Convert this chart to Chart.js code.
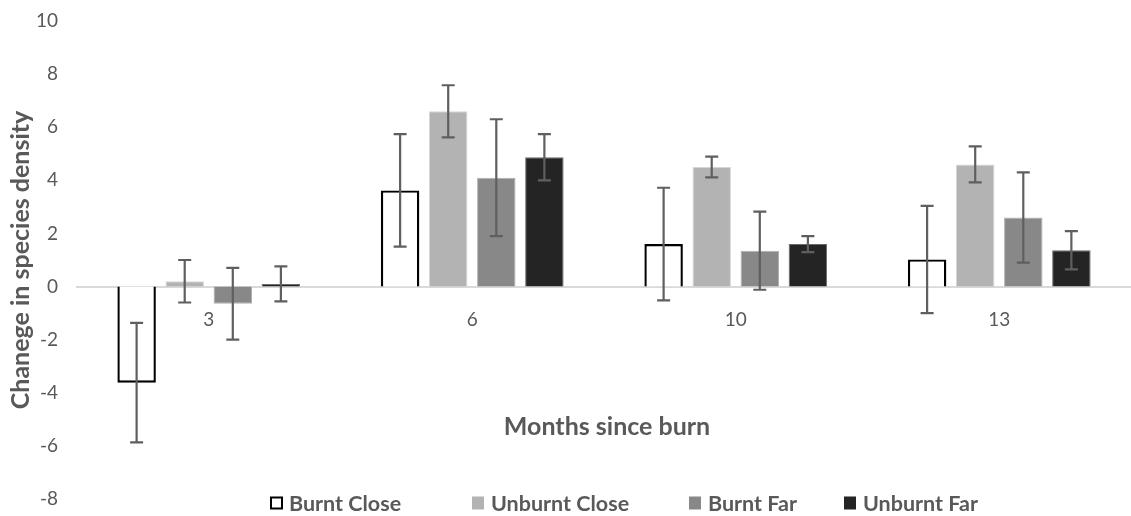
<!DOCTYPE html>
<html>
<head>
<meta charset="utf-8">
<script src="https://cdn.jsdelivr.net/npm/chart.js@4.4.1/dist/chart.umd.min.js"></script>
<style>
  html, body { margin: 0; padding: 0; background: #ffffff; }
  #wrap { width: 1131px; height: 516px; position: relative; }
</style>
</head>
<body>
<div id="wrap"><canvas id="chart"></canvas></div>
<script>
// Months since burn (categories)
const months = ['3', '6', '10', '13'];

// Mean change in species density per treatment
const burntClose   = [-3.62, 3.62, 1.60, 1.02];
const unburntClose = [0.20, 6.60, 4.50, 4.60];
const burntFar     = [-0.65, 4.10, 1.35, 2.60];
const unburntFar   = [0.10, 4.87, 1.60, 1.37];

// Error bar half-lengths (±)
const burntCloseErr   = [2.25, 2.12, 2.12, 2.02];
const unburntCloseErr = [0.80, 0.98, 0.39, 0.68];
const burntFarErr     = [1.35, 2.20, 1.47, 1.70];
const unburntFarErr   = [0.66, 0.87, 0.30, 0.72];

// Y axis range and tick step
const yMin = -8, yMax = 10, yStep = 2;

const seriesNames = ['Burnt Close', 'Unburnt Close', 'Burnt Far', 'Unburnt Far'];

const TEXT = '#595959';
const FONT = 'Lato, "Open Sans", sans-serif';

// Draws symmetric error bars on top of each bar
const errorBars = {
  id: 'errorBars',
  afterDatasetsDraw(chart) {
    const ctx = chart.ctx;
    const y = chart.scales.y;
    ctx.save();
    ctx.strokeStyle = '#5f5f5f';
    ctx.lineWidth = 2.2;
    chart.data.datasets.forEach((ds, i) => {
      const meta = chart.getDatasetMeta(i);
      meta.data.forEach((bar, j) => {
        const v = ds.data[j], e = ds.errors[j];
        const yt = y.getPixelForValue(v + e);
        const yb = y.getPixelForValue(v - e);
        const cap = 6.5;
        ctx.beginPath();
        ctx.moveTo(bar.x, yt); ctx.lineTo(bar.x, yb);
        ctx.moveTo(bar.x - cap, yt); ctx.lineTo(bar.x + cap, yt);
        ctx.moveTo(bar.x - cap, yb); ctx.lineTo(bar.x + cap, yb);
        ctx.stroke();
      });
    });
    ctx.restore();
  }
};

// X axis title and the legend row under the plot
const extraText = {
  id: 'extraText',
  afterDraw(chart) {
    const ctx = chart.ctx;
    const area = chart.chartArea;
    ctx.save();
    ctx.fillStyle = TEXT;
    ctx.font = 'bold 25px ' + FONT;
    ctx.textAlign = 'center';
    ctx.textBaseline = 'middle';
    ctx.fillText('Months since burn', (area.left + area.right) / 2 + 3, 427);

    const boxX = [270, 472, 689, 844];
    const cy = 503;
    ctx.font = 'bold 21.5px ' + FONT;
    ctx.textAlign = 'left';
    chart.data.datasets.forEach((ds, i) => {
      const bx = boxX[i];
      if (i === 0) {
        ctx.fillStyle = '#ffffff';
        ctx.fillRect(bx, cy - 6.5, 13, 13);
        ctx.strokeStyle = '#000000';
        ctx.lineWidth = 2;
        ctx.strokeRect(bx + 1, cy - 5.5, 11, 11);
      } else {
        ctx.fillStyle = ds.backgroundColor;
        ctx.fillRect(bx, cy - 6.5, 12, 13);
      }
      ctx.fillStyle = TEXT;
      ctx.fillText(ds.label, bx + 19, cy + 1);
    });
    ctx.restore();
  }
};

const common = { barPercentage: 0.8, categoryPercentage: 0.73, borderSkipped: 'start' };

function noScalePadding(scale) {
  scale.paddingTop = 0;
  scale.paddingBottom = 0;
  scale.paddingLeft = 0;
  scale.paddingRight = 0;
}

new Chart(document.getElementById('chart'), {
  type: 'bar',
  data: {
    labels: months,
    datasets: [
      Object.assign({ label: seriesNames[0], data: burntClose, errors: burntCloseErr,
        backgroundColor: '#ffffff', borderColor: '#000000', borderWidth: 2.4 }, common),
      Object.assign({ label: seriesNames[1], data: unburntClose, errors: unburntCloseErr,
        backgroundColor: '#b3b3b3', borderColor: '#d6d6d6', borderWidth: 1 }, common),
      Object.assign({ label: seriesNames[2], data: burntFar, errors: burntFarErr,
        backgroundColor: '#888888', borderColor: '#b0b0b0', borderWidth: 1 }, common),
      Object.assign({ label: seriesNames[3], data: unburntFar, errors: unburntFarErr,
        backgroundColor: '#242424', borderColor: '#6a6a6a', borderWidth: 1 }, common)
    ]
  },
  options: {
    responsive: true,
    maintainAspectRatio: false,
    animation: false,
    layout: { padding: { top: 21, bottom: 17, left: 0, right: 0 } },
    plugins: {
      legend: { display: false },
      tooltip: { enabled: false }
    },
    scales: {
      x: {
        position: { y: 0 },
        z: 1,
        grid: { display: false, drawTicks: false },
        border: { display: true, color: '#d9d9d9', width: 2 },
        ticks: { color: TEXT, font: { family: FONT, size: 19 }, padding: 22 },
        afterFit: noScalePadding
      },
      y: {
        min: yMin,
        max: yMax,
        grid: { display: false, drawTicks: false },
        border: { display: false },
        ticks: { stepSize: yStep, color: TEXT, font: { family: FONT, size: 19 }, padding: 19 },
        title: {
          display: true,
          text: 'Chanege in species density',
          color: TEXT,
          font: { family: FONT, size: 25, weight: 'bold' },
          padding: { top: 6, bottom: 0 }
        },
        afterFit(scale) { scale.width = 77; noScalePadding(scale); }
      }
    }
  },
  plugins: [errorBars, extraText]
});
</script>
</body>
</html>
